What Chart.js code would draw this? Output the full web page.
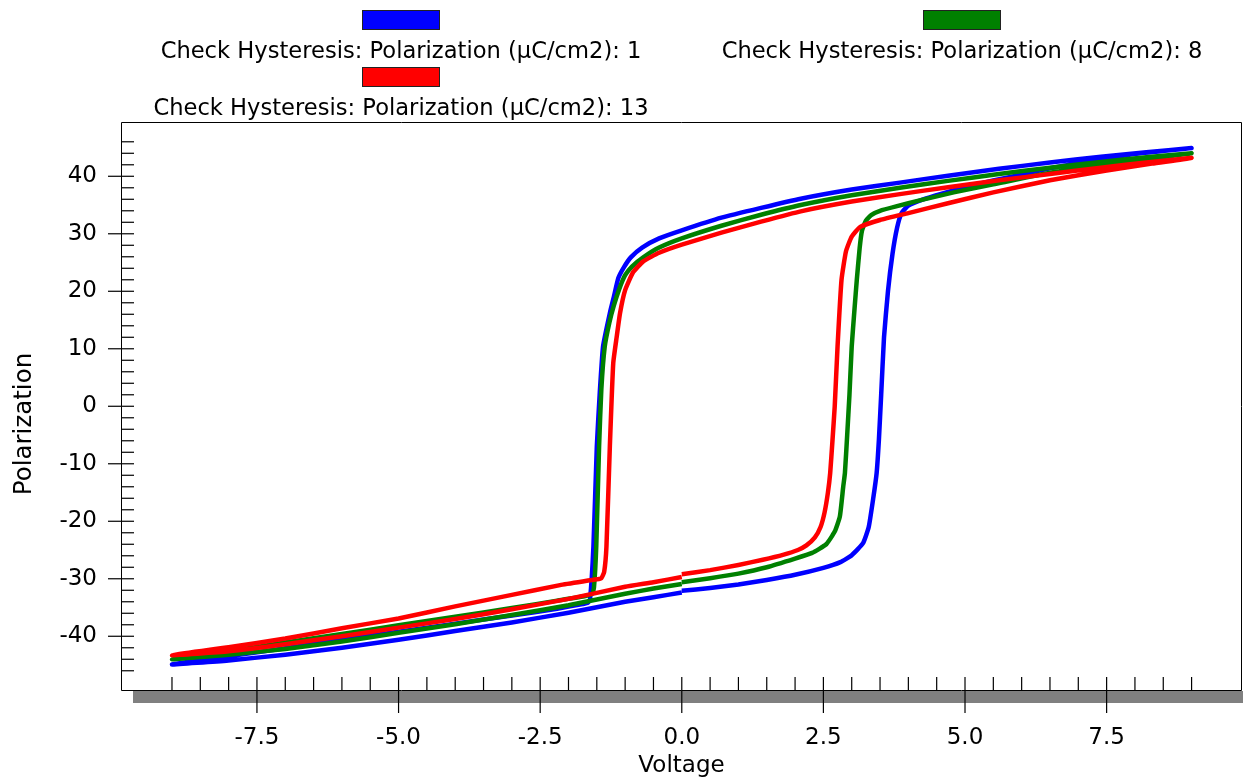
<!DOCTYPE html>
<html><head><meta charset="utf-8">
<script src="https://cdn.jsdelivr.net/npm/chart.js@4/dist/chart.umd.min.js"></script>
<style>html,body{margin:0;padding:0;background:#fff;}canvas{display:block;}</style>
</head><body>
<canvas id="c" width="1243" height="780"></canvas>
<script>
// ---- data (Voltage V, Polarization µC/cm2), loop: 0 -> +9 -> -9 -> 0 ----
const seriesNames = [
  'Check Hysteresis: Polarization (\u03bcC/cm2): 1',
  'Check Hysteresis: Polarization (\u03bcC/cm2): 8',
  'Check Hysteresis: Polarization (\u03bcC/cm2): 13'
];
const seriesColors = ['#0000ff', '#008000', '#ff0000'];

const blueV = [0,0.5,1,1.5,2,2.5,2.8,3.0,3.2,3.3,3.38,3.44,3.48,3.52,3.57,3.64,3.72,3.8,3.88,4.0,4.3,4.7,5.2,5.8,6.5,7.3,8.1,9.0,
  8.2,7.4,6.5,5.6,4.7,3.85,3.0,2.1,1.4,0.7,0,-0.4,-0.7,-0.9,-1.02,-1.12,-1.2,-1.27,-1.39,-1.45,-1.5,-1.56,-1.62,-1.66,-1.75,-2.2,-3,-4,-5,-6,-7,-8,-9,
  -8,-7,-6,-5,-4,-3,-2,-1,-0.5,0];
const blueP = [-32.1,-31.6,-31.0,-30.2,-29.3,-28.1,-27.1,-25.9,-23.8,-21.0,-16.0,-11.6,-5.8,2,12,20,26.5,31,33.6,34.9,36.1,37.3,38.6,39.9,41.4,42.8,44.0,44.9,
  44.2,43.4,42.4,41.3,40.1,38.9,37.7,36.1,34.5,32.8,30.6,29.2,27.6,25.9,24.2,22.3,19.0,16.2,10.4,2,-7.0,-24.4,-33.6,-34.2,-34.4,-35.2,-36.4,-37.8,-39.2,-40.6,-42.1,-43.5,-44.9,
  -44.2,-43.2,-42.0,-40.6,-39.1,-37.6,-35.9,-34.0,-33.2,-32.4];

const greenV = [0,0.5,1,1.5,2,2.3,2.55,2.7,2.79,2.85,2.88,2.92,2.96,3.0,3.05,3.09,3.14,3.18,3.25,3.35,3.5,3.8,4.2,4.8,5.5,6.5,7.5,8.3,9.0,
  8.2,7.4,6.5,5.6,4.7,3.85,3.0,2.1,1.4,0.7,0,-0.4,-0.68,-0.88,-1.0,-1.1,-1.2,-1.28,-1.36,-1.42,-1.46,-1.51,-1.55,-1.58,-1.7,-2.2,-3,-4,-5,-6,-7,-8,-9,
  -8,-7,-6,-5,-4,-3,-2,-1,-0.5,0];
const greenP = [-30.6,-29.9,-29.1,-28.0,-26.5,-25.5,-24.0,-21.8,-19.2,-14,-11.6,-5,2,10.4,17,22,27.5,30.5,32.3,33.3,34.0,34.8,35.8,37.2,38.6,40.6,42.1,43.1,44.0,
  43.3,42.5,41.5,40.4,39.2,38.0,36.7,35.0,33.3,31.4,29.2,27.6,25.9,24.3,22.8,20.5,17.5,14.5,10.4,3,-7.0,-24.4,-31.5,-32.6,-33.0,-33.8,-35.1,-36.6,-38.1,-39.6,-41.1,-42.6,-44.0,
  -43.2,-42.2,-40.9,-39.4,-37.9,-36.3,-34.6,-32.6,-31.7,-30.9];

const redV = [0,0.5,1,1.43,1.8,2.05,2.2,2.35,2.45,2.52,2.58,2.62,2.66,2.7,2.75,2.82,2.9,3.0,3.15,3.5,4.0,4.7,5.5,6.5,7.5,8.3,9.0,
  8.2,7.4,6.5,5.6,4.7,3.85,3.0,2.1,1.4,0.7,0,-0.4,-0.68,-0.86,-1.0,-1.09,-1.15,-1.21,-1.27,-1.33,-1.37,-1.42,-1.5,-2.15,-3,-4,-5,-6,-7,-8,-9,
  -8,-7,-6,-5,-4,-3,-2,-1,-0.5,0];
const redP = [-29.2,-28.5,-27.6,-26.7,-25.8,-25.0,-24.2,-22.8,-21.0,-18.5,-15,-11.6,-6,0,10.4,22,27,29.5,31.2,32.4,33.6,35.3,37.2,39.3,41.0,42.2,43.2,
  42.4,41.5,40.4,39.3,38.1,36.9,35.6,33.9,32.1,30.2,28.1,26.7,25.2,23.3,20.2,16.2,12,7.5,-7.0,-24.4,-28.8,-29.9,-30.1,-31.1,-32.8,-34.8,-36.9,-38.6,-40.4,-41.9,-43.3,
  -42.6,-41.4,-40.0,-38.5,-37.0,-35.3,-33.5,-31.4,-30.6,-29.7];

const xMin = -9.90, xMax = 9.89, yMin = -49.52, yMax = 49.44;
const xTickLabels = ['-7.5','-5.0','-2.5','0.0','2.5','5.0','7.5'];
const yTickLabels = ['-40','-30','-20','-10','0','10','20','30','40'];

const FONT = '"DejaVu Sans", sans-serif';
const toPts = (V, P) => V.map((v, i) => ({x: v, y: P[i]}));
const isMult = (v, s) => Math.abs(v / s - Math.round(v / s)) < 1e-6;

const decor = {
  id: 'decor',
  beforeDatasetsDraw(chart) {
    const {ctx, chartArea: a, scales: {x, y}} = chart;
    ctx.save();
    ctx.fillStyle = '#808080';
    ctx.fillRect(133, a.bottom, chart.width - 133, 12);
    ctx.strokeStyle = '#000';
    ctx.lineWidth = 1;
    ctx.beginPath();
    ctx.moveTo(a.left + 0.5, a.top + 0.5); ctx.lineTo(a.right - 0.5, a.top + 0.5);
    ctx.lineTo(a.right - 0.5, a.bottom - 0.5); ctx.lineTo(a.left + 0.5, a.bottom - 0.5);
    ctx.closePath(); ctx.stroke();
    ctx.lineWidth = 1.2;
    x.ticks.forEach(t => {
      const v = t.value;
      if (!isMult(v, 0.5)) return;
      const px = x.getPixelForValue(v);
      const major = isMult(v, 2.5);
      ctx.beginPath(); ctx.moveTo(px, a.bottom - 14); ctx.lineTo(px, major ? a.bottom + 22 : a.bottom); ctx.stroke();
    });
    y.ticks.forEach(t => {
      const v = t.value;
      if (!isMult(v, 2)) return;
      const py = y.getPixelForValue(v);
      const major = isMult(v, 10);
      ctx.beginPath(); ctx.moveTo(major ? a.left - 13 : a.left, py); ctx.lineTo(a.left + 13, py); ctx.stroke();
    });
    ctx.restore();
  },
  afterDraw(chart) {
    const {ctx} = chart;
    ctx.save();
    ctx.fillStyle = '#000';
    ctx.font = '24.5px ' + FONT;
    ctx.textAlign = 'center'; ctx.textBaseline = 'middle';
    ctx.translate(24.5, 424); ctx.rotate(-Math.PI / 2);
    ctx.fillText('Polarization', 0, 0);
    ctx.restore();
    ctx.save();
    ctx.font = '22.6px ' + FONT;
    ctx.textAlign = 'center'; ctx.textBaseline = 'alphabetic';
    const cols = [401, 962];
    chart.data.datasets.forEach((ds, i) => {
      const cx = cols[i % 2], row = Math.floor(i / 2);
      const top = 10 + row * 57;
      ctx.fillStyle = ds.borderColor;
      ctx.fillRect(cx - 39, top, 78, 20);
      ctx.strokeStyle = '#222'; ctx.lineWidth = 1;
      ctx.strokeRect(cx - 39 + 0.5, top + 0.5, 77, 19);
      ctx.fillStyle = '#000';
      ctx.fillText(ds.label, cx, top + 48);
    });
    ctx.restore();
  }
};

const chart = new Chart(document.getElementById('c'), {
  type: 'scatter',
  data: {
    datasets: [
      {label: seriesNames[0], data: toPts(blueV, blueP), borderColor: seriesColors[0], order: 3},
      {label: seriesNames[1], data: toPts(greenV, greenP), borderColor: seriesColors[1], order: 2},
      {label: seriesNames[2], data: toPts(redV, redP), borderColor: seriesColors[2], order: 1}
    ].map(d => Object.assign(d, {showLine: true, pointRadius: 0, borderWidth: 4.5, tension: 0.15, fill: false, backgroundColor: d.borderColor}))
  },
  options: {
    responsive: false, animation: false, devicePixelRatio: 1, events: [],
    layout: {padding: {top: 122, right: 1, bottom: 0, left: 0}},
    plugins: {legend: {display: false}, tooltip: {enabled: false}},
    scales: {
      x: {
        type: 'linear', min: xMin, max: xMax,
        grid: {display: false, drawTicks: false}, border: {display: false},
        afterFit: s => { s.height = 89; s.paddingLeft = 0; s.paddingRight = 0; },
        ticks: {
          stepSize: 0.5, autoSkip: false, maxRotation: 0, padding: 33,
          color: '#000', font: {family: FONT, size: 23},
          callback: v => { const s = (Math.round(v * 10) / 10 + 0).toFixed(1); return isMult(v, 2.5) && xTickLabels.includes(s) ? s : ''; }
        },
        title: {display: true, text: 'Voltage', color: '#000', font: {family: FONT, size: 23}, padding: {top: 0, bottom: 0}}
      },
      y: {
        type: 'linear', min: yMin, max: yMax,
        grid: {display: false, drawTicks: false}, border: {display: false},
        afterFit: s => { s.width = 121; s.paddingTop = 0; s.paddingBottom = 0; },
        ticks: {
          stepSize: 2, autoSkip: false, padding: 24,
          color: '#000', font: {family: FONT, size: 23},
          callback: v => { const s = String(Math.round(v) + 0); return isMult(v, 10) && yTickLabels.includes(s) ? s : ''; }
        }
      }
    }
  },
  plugins: [decor]
});
</script>
</body></html>
